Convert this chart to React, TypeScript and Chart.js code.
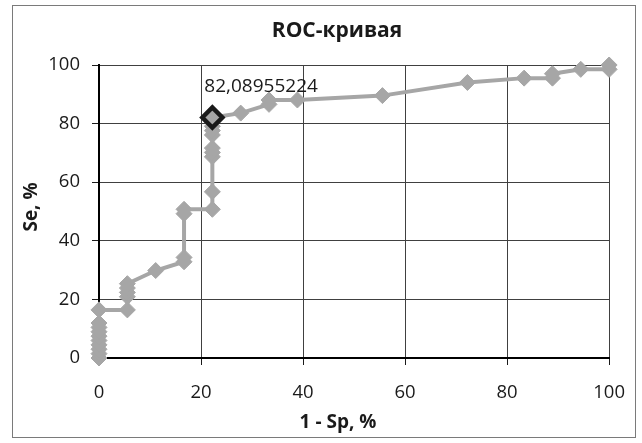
import { useEffect, useRef } from "react";
import { Chart, registerables } from "chart.js";

Chart.register(...registerables);

const chartTitle = "ROC-кривая";
const xAxisTitle = "1 - Sp, %";
const yAxisTitle = "Se, %";

// 1 - specificity, %
const fprValues = [
  0, 0, 0, 0, 0, 0, 0, 0, 0, 0,
  5.56, 5.56, 5.56, 5.56, 5.56,
  11.11,
  16.67, 16.67, 16.67, 16.67,
  22.22, 22.22, 22.22, 22.22, 22.22, 22.22, 22.22, 22.22, 22.22, 22.22,
  27.78,
  33.33, 33.33,
  38.89,
  55.56,
  72.22,
  83.33,
  88.89, 88.89,
  94.44,
  100, 100,
];

// sensitivity, %
const seValues = [
  0, 1.49, 2.99, 4.48, 5.97, 7.46, 8.96, 10.45, 11.94, 16.42,
  16.42, 20.9, 22.39, 23.88, 25.37,
  29.85,
  32.84, 34.33, 49.25, 50.75,
  50.75, 56.72, 68.66, 70.15, 71.64, 76.12, 77.61, 79.1, 80.6, 82.08955224,
  83.58,
  86.57, 88.06,
  88.06,
  89.55,
  94.03,
  95.52,
  95.52, 97.01,
  98.51,
  98.51, 100,
];

const highlightIndex = 29;

const axisMin = 0;
const axisMax = 100;
const axisStep = 20;

const GRAY = "#a6a6a6";
const TEXT = "#1a1a1a";
const FONT = "'Open Sans', 'DejaVu Sans', sans-serif";

export default function App() {
  const canvasRef = useRef<HTMLCanvasElement | null>(null);

  useEffect(() => {
    const canvas = canvasRef.current;
    if (!canvas) return;

    const textPlugin = {
      id: "textPlugin",
      afterDraw(chart: any) {
        const ctx = chart.ctx as CanvasRenderingContext2D;
        ctx.save();
        ctx.fillStyle = TEXT;
        ctx.textAlign = "center";
        ctx.textBaseline = "middle";
        ctx.font = `bold 21px ${FONT}`;
        ctx.fillText(chartTitle, 337, 31);
        ctx.font = `bold 19px ${FONT}`;
        ctx.fillText(xAxisTitle, 338, 423);
        ctx.translate(32, 207);
        ctx.rotate(-Math.PI / 2);
        ctx.fillText(yAxisTitle, 0, 0);
        ctx.restore();

        const meta = chart.getDatasetMeta(0);
        const pt = meta.data[highlightIndex];
        if (pt) {
          ctx.save();
          ctx.fillStyle = TEXT;
          ctx.font = `19px ${FONT}`;
          ctx.textAlign = "left";
          ctx.textBaseline = "middle";
          const label = seValues[highlightIndex].toFixed(8).replace(".", ",");
          ctx.fillText(label, pt.x - 8, pt.y - 31);
          ctx.restore();
        }
      },
    };

    const chart = new Chart(canvas, {
      type: "scatter",
      data: {
        datasets: [
          {
            data: fprValues.map((x, i) => ({ x, y: seValues[i] })),
            showLine: true,
            clip: false,
            borderColor: GRAY,
            borderWidth: 4,
            backgroundColor: GRAY,
            pointStyle: "rectRot",
            pointRadius: (c: any) => (c.dataIndex === highlightIndex ? 10 : 8),
            pointBorderWidth: (c: any) => (c.dataIndex === highlightIndex ? 4.5 : 1),
            pointBorderColor: (c: any) => (c.dataIndex === highlightIndex ? "#1a1a1a" : GRAY),
            pointBackgroundColor: GRAY,
          } as any,
        ],
      },
      options: {
        responsive: false,
        animation: false,
        layout: { padding: { top: 65, right: 27, left: 0, bottom: 0 } },
        plugins: {
          legend: { display: false },
          title: { display: false },
          tooltip: { enabled: false },
        },
        scales: {
          x: {
            type: "linear",
            min: axisMin,
            max: axisMax,
            ticks: { stepSize: axisStep, color: TEXT, font: { family: FONT, size: 18.5 }, padding: 17 },
            grid: { color: "#404040", lineWidth: 1, tickLength: 7, tickColor: TEXT },
            border: { color: "#000", width: 2 },
            afterFit: (s: any) => {
              s.height = 85;
            },
          },
          y: {
            type: "linear",
            min: axisMin,
            max: axisMax,
            ticks: { stepSize: axisStep, color: TEXT, font: { family: FONT, size: 18.5 }, padding: 12 },
            grid: { color: "#404040", lineWidth: 1, tickLength: 7, tickColor: TEXT },
            border: { color: "#000", width: 2 },
            afterFit: (s: any) => {
              s.width = 99;
            },
          },
        },
      },
      plugins: [textPlugin],
    });

    return () => chart.destroy();
  }, []);

  return (
    <div style={{ position: "fixed", left: 0, top: 0, width: 642, height: 443, background: "#fff" }}>
      <div
        style={{
          position: "absolute",
          left: 12,
          top: 5,
          width: 624,
          height: 433,
          border: "1.5px solid #7a7a7a",
          boxSizing: "border-box",
        }}
      />
      <canvas ref={canvasRef} width={642} height={443} style={{ position: "absolute", left: 0, top: 0, display: "block" }} />
    </div>
  );
}
